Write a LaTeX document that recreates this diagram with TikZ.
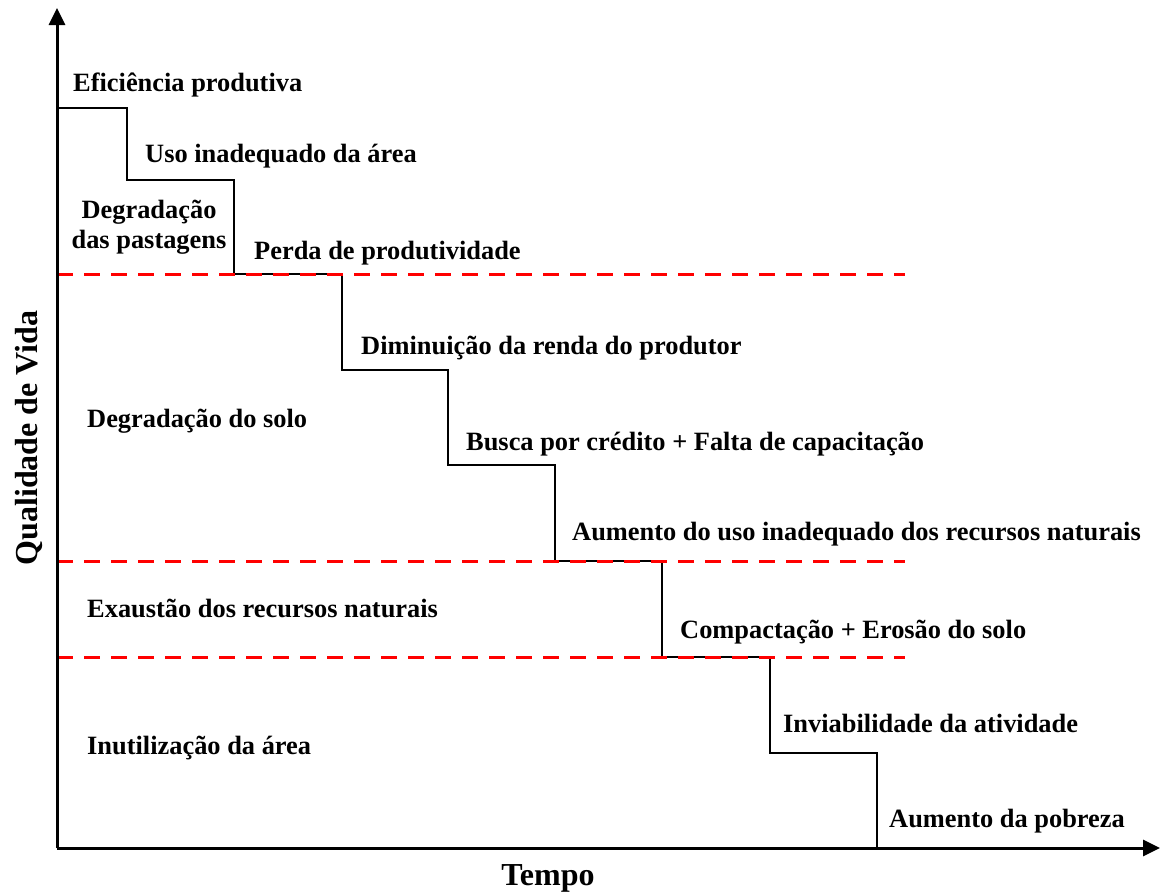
\documentclass[tikz,border=0pt]{standalone}
\usepackage{fontspec}
\setmainfont{Liberation Serif}
\usetikzlibrary{arrows.meta}
\begin{document}
\begin{tikzpicture}[x=1pt,y=-1pt,
  lbl/.style={anchor=base west,inner sep=0pt,font=\fontsize{26.4}{30}\selectfont\bfseries},
  axislbl/.style={inner sep=0pt,font=\fontsize{32}{36}\selectfont\bfseries},
  axis/.style={line width=3pt,-{Triangle[length=17pt,width=16pt]}},
  stair/.style={line width=2pt,line join=miter},
  limit/.style={red,line width=3pt,dash pattern=on 16pt off 11pt}]
\useasboundingbox (0,0) rectangle (1160,892);
% coordinates
\coordinate (O) at (57,848);
\coordinate (Ytop) at (57,8);
\coordinate (Xend) at (1160,848);
\coordinate (s0) at (57,108);
\coordinate (s1) at (127,108);
\coordinate (s2) at (127,180);
\coordinate (s3) at (234,180);
\coordinate (s4) at (234,274);
\coordinate (s5) at (342,274);
\coordinate (s6) at (342,370);
\coordinate (s7) at (448,370);
\coordinate (s8) at (448,465);
\coordinate (s9) at (555,465);
\coordinate (s10) at (555,561);
\coordinate (s11) at (662,561);
\coordinate (s12) at (662,657);
\coordinate (s13) at (770,657);
\coordinate (s14) at (770,753);
\coordinate (s15) at (877,753);
\coordinate (s16) at (877,848);
\coordinate (r1a) at (57,274); \coordinate (r1b) at (905,274);
\coordinate (r2a) at (57,561); \coordinate (r2b) at (905,561);
\coordinate (r3a) at (57,657); \coordinate (r3b) at (905,657);
% staircase
\draw[stair] (s0) -- (s1) -- (s2) -- (s3) -- (s4) -- (s5) -- (s6) -- (s7) -- (s8) -- (s9) -- (s10) -- (s11) -- (s12) -- (s13) -- (s14) -- (s15) -- (s16);
% red limits
\draw[limit] (r1a) -- (r1b);
\draw[limit] (r2a) -- (r2b);
\draw[limit] (r3a) -- (r3b);
% axes
\draw[axis] (O) -- (Ytop);
\draw[axis] (O) -- (Xend);
% labels
\node[lbl] (t1) at (73,91) {Eficiência produtiva};
\node[lbl] (t2) at (145,162) {Uso inadequado da área};
\node[lbl,anchor=base,align=center] (t3) at (149,248) {Degradação\\das pastagens};
\node[lbl] (t4) at (254,259) {Perda de produtividade};
\node[lbl] (t5) at (361,354) {Diminuição da renda do produtor};
\node[lbl] (t6) at (466,450) {Busca por crédito + Falta de capacitação};
\node[lbl] (t7) at (572,540) {Aumento do uso inadequado dos recursos naturais};
\node[lbl] (t8) at (680,638) {Compactação + Erosão do solo};
\node[lbl] (t9) at (783,732) {Inviabilidade da atividade};
\node[lbl] (t10) at (889,827) {Aumento da pobreza};
\node[lbl] (z1) at (87,427) {Degradação do solo};
\node[lbl] (z2) at (87,617) {Exaustão dos recursos naturais};
\node[lbl] (z3) at (87,754) {Inutilização da área};
\node[axislbl,anchor=base] (xl) at (548,885) {Tempo};
\node[axislbl,anchor=base,rotate=90] (yl) at (37,438) {Qualidade de Vida};
\end{tikzpicture}
\end{document}
